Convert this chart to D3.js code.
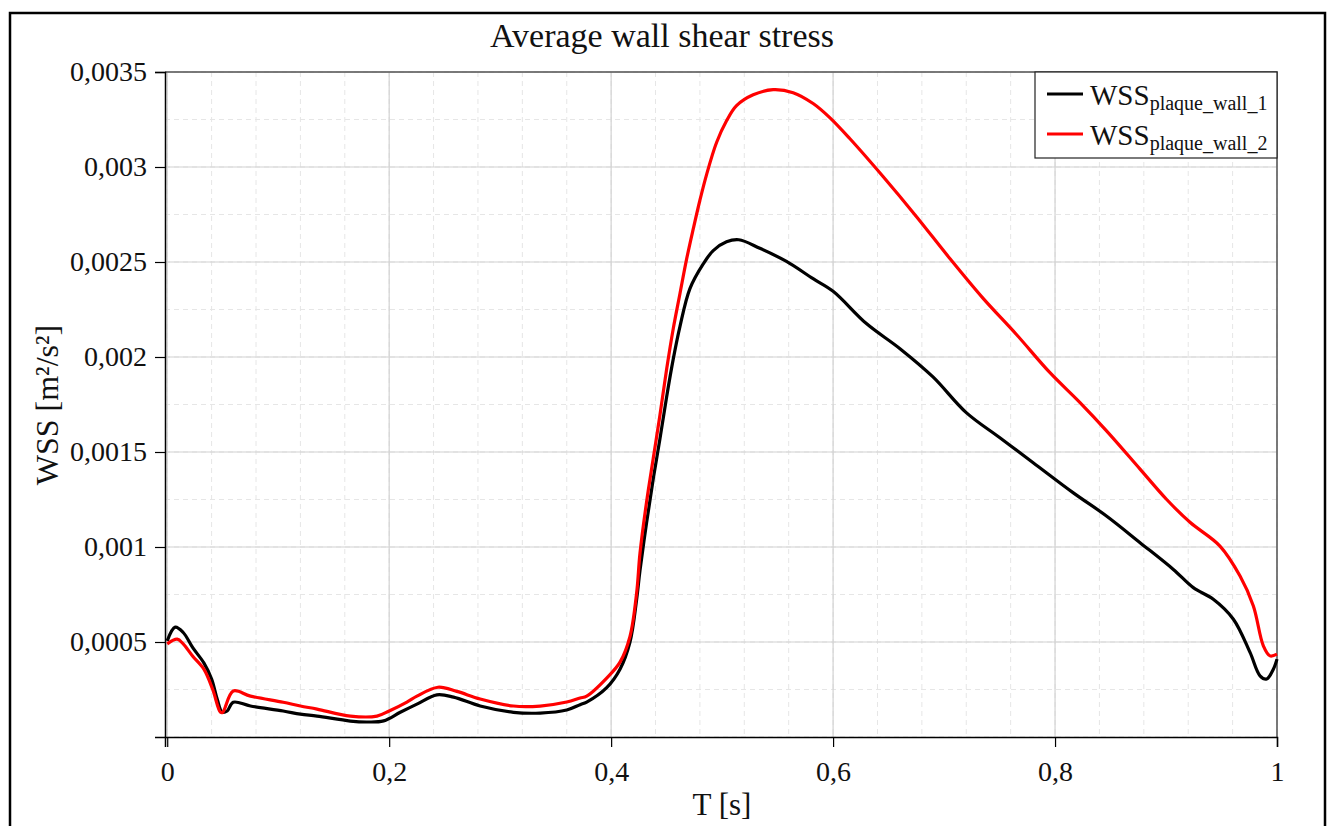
<!DOCTYPE html>
<html>
<head>
<meta charset="utf-8">
<script src="https://cdn.jsdelivr.net/npm/d3@7"></script>
<style>
  body { margin: 0; background: #fff; }
  text { font-family: "Liberation Serif", "DejaVu Serif", serif; fill: #111; }
</style>
</head>
<body>
<svg id="drawing_region"></svg>
<script>
// series 1: WSS plaque_wall_1 (black)
const time_1 = [0, 0.0072, 0.0144, 0.023, 0.033, 0.040, 0.045, 0.0495, 0.054, 0.0595,
    0.075, 0.1045, 0.12, 0.135, 0.165, 0.18, 0.195, 0.21, 0.225, 0.243,
    0.258, 0.282, 0.312, 0.336, 0.36, 0.372, 0.378, 0.396, 0.408, 0.417,
    0.423, 0.426, 0.432, 0.438, 0.444, 0.450, 0.456, 0.462, 0.471, 0.483,
    0.492, 0.504, 0.515, 0.534, 0.558, 0.582, 0.600, 0.630, 0.660, 0.690,
    0.720, 0.750, 0.780, 0.8165, 0.8466, 0.8766, 0.9066, 0.9246, 0.9426, 0.9607,
    0.9757, 0.9847, 0.9907, 0.9967, 1.0];
const wss_1 = [0.000506, 0.000578, 0.00055, 0.00047, 0.00039, 0.000305, 0.0002, 0.000131, 0.000137, 0.000183,
    0.000163, 0.000137, 0.00012, 0.00011, 0.000084, 0.000079, 0.000085, 0.00013, 0.000173, 0.000222,
    0.00021, 0.000163, 0.00013, 0.000126, 0.000142, 0.00017, 0.000184, 0.00026, 0.000357, 0.0005,
    0.000725, 0.000876, 0.00113, 0.00136, 0.00157, 0.00179, 0.00199, 0.00216, 0.00236, 0.00249,
    0.00256, 0.002606, 0.002617, 0.002572, 0.002503, 0.002412, 0.002346, 0.002176, 0.002045, 0.001895,
    0.001707, 0.001576, 0.001445, 0.001285, 0.001162, 0.001023, 0.000882, 0.000786, 0.000725, 0.00062,
    0.000445, 0.000322, 0.000305, 0.000357, 0.00041];

// series 2: WSS plaque_wall_2 (red)
const time_2 = [0, 0.009, 0.0144, 0.023, 0.033, 0.041, 0.048, 0.05, 0.0595, 0.075,
    0.1045, 0.12, 0.135, 0.165, 0.189, 0.2, 0.216, 0.225, 0.244, 0.261,
    0.282, 0.312, 0.336, 0.36, 0.372, 0.378, 0.396, 0.408, 0.417, 0.423,
    0.426, 0.432, 0.438, 0.444, 0.450, 0.456, 0.462, 0.468, 0.474, 0.480,
    0.486, 0.495, 0.504, 0.513, 0.528, 0.546, 0.564, 0.582, 0.597, 0.615,
    0.645, 0.675, 0.705, 0.735, 0.765, 0.795, 0.8225, 0.8466, 0.8766, 0.9006,
    0.9216, 0.9486, 0.9667, 0.9787, 0.9877, 0.9937, 1.0];
const wss_2 = [0.00049, 0.000515, 0.00049, 0.000425, 0.000357, 0.00025, 0.00013, 0.00013, 0.000242, 0.000215,
    0.000183, 0.000163, 0.000147, 0.00011, 0.00011, 0.000137, 0.000184, 0.000215, 0.000262, 0.00024,
    0.0002, 0.000163, 0.000163, 0.000184, 0.000205, 0.000215, 0.00031, 0.000394, 0.00053, 0.00076,
    0.000967, 0.00124, 0.001468, 0.001695, 0.001935, 0.00215, 0.002333, 0.002515, 0.002674, 0.002825,
    0.00296, 0.003129, 0.003243, 0.003323, 0.00338, 0.003407, 0.003391, 0.003334, 0.00326, 0.00315,
    0.00295, 0.00274, 0.00252, 0.00231, 0.00212, 0.00192, 0.00176, 0.00161, 0.00141, 0.00125,
    0.00113, 0.001005, 0.000847, 0.00069, 0.00048, 0.000427, 0.000436];

const series_names = ["plaque_wall_1", "plaque_wall_2"];
const series_colors = ["#000000", "#ff0000"];
const x_ticks = [0, 0.2, 0.4, 0.6, 0.8, 1];
const y_ticks = [0.0005, 0.001, 0.0015, 0.002, 0.0025, 0.003, 0.0035];

const config = {
    width: 1330,
    height: 826,
    margin: {top: 72, right: 53, bottom: 89, left: 165}
};

const svg = d3.select('#drawing_region')
    .attr('width', config.width)
    .attr('height', config.height);

const inner_width = config.width - config.margin.left - config.margin.right;
const inner_height = config.height - config.margin.top - config.margin.bottom;

// outer frame (bottom edge runs off the picture)
svg.append('rect')
    .attr('x', 10).attr('y', 13)
    .attr('width', 1315).attr('height', 840)
    .attr('fill', 'none')
    .attr('stroke', '#000')
    .attr('stroke-width', 2.5);

const chart = svg.append('g')
    .attr('transform', `translate(${config.margin.left}, ${config.margin.top})`);

const xscale = d3.scaleLinear().domain([-0.002, 1]).range([0, inner_width]);
const yscale = d3.scaleLinear().domain([0, 0.0035]).range([inner_height, 0]);

const fmt = d => String(+d.toFixed(6)).replace('.', ',');

// minor grid (dashed)
chart.append('g').selectAll('line')
    .data(d3.range(0, 26).map(i => i * 0.04))
    .join('line')
    .attr('x1', d => xscale(d)).attr('x2', d => xscale(d))
    .attr('y1', 0).attr('y2', inner_height)
    .attr('stroke', '#e6e6e6').attr('stroke-dasharray', '5,4');
chart.append('g').selectAll('line')
    .data(d3.range(0, 15).map(i => i * 0.00025))
    .join('line')
    .attr('x1', 0).attr('x2', inner_width)
    .attr('y1', d => yscale(d)).attr('y2', d => yscale(d))
    .attr('stroke', '#e6e6e6').attr('stroke-dasharray', '5,4');

// major grid
chart.append('g').selectAll('line')
    .data(x_ticks)
    .join('line')
    .attr('x1', d => xscale(d)).attr('x2', d => xscale(d))
    .attr('y1', 0).attr('y2', inner_height)
    .attr('stroke', '#d2d2d2').attr('stroke-width', 1.2);
chart.append('g').selectAll('line')
    .data(y_ticks)
    .join('line')
    .attr('x1', 0).attr('x2', inner_width)
    .attr('y1', d => yscale(d)).attr('y2', d => yscale(d))
    .attr('stroke', '#d2d2d2').attr('stroke-width', 1.2);

// top / right frame of plot
chart.append('path')
    .attr('d', `M0,0H${inner_width}V${inner_height}`)
    .attr('fill', 'none')
    .attr('stroke', '#555').attr('stroke-width', 1.5);

// axes
const xaxis = d3.axisBottom(xscale).tickValues(x_ticks).tickFormat(fmt).tickSize(10).tickPadding(14);
const xaxis_minor = d3.axisBottom(xscale).tickValues(d3.range(0, 26).map(i => i * 0.04)).tickFormat('').tickSize(6);
const yaxis = d3.axisLeft(yscale).tickValues(y_ticks).tickFormat(fmt).tickSize(10).tickPadding(8);
const yaxis_minor = d3.axisLeft(yscale).tickValues(d3.range(1, 15, 2).map(i => i * 0.00025)).tickFormat('').tickSize(6);

const xg = chart.append('g').attr('transform', `translate(0, ${inner_height})`);
xg.call(xaxis_minor);
xg.call(xaxis);
const yg = chart.append('g');
yg.call(yaxis_minor);
yg.call(yaxis);

chart.selectAll('.domain').attr('stroke', '#000').attr('stroke-width', 1.5);
chart.selectAll('.tick line').attr('stroke', '#000').attr('stroke-width', 1.2);
chart.selectAll('.tick text')
    .attr('font-family', '"Liberation Serif", serif')
    .attr('font-size', '28px')
    .attr('fill', '#111');

// lines
const line = d3.line()
    .x(d => xscale(d[0]))
    .y(d => yscale(d[1]))
    .curve(d3.curveCatmullRom.alpha(0.5));

const data_1 = time_1.map((t, i) => [t, wss_1[i]]);
const data_2 = time_2.map((t, i) => [t, wss_2[i]]);

chart.append('path')
    .datum(data_1)
    .attr('d', line)
    .attr('fill', 'none')
    .attr('stroke', series_colors[0])
    .attr('stroke-width', 3.2);
chart.append('path')
    .datum(data_2)
    .attr('d', line)
    .attr('fill', 'none')
    .attr('stroke', series_colors[1])
    .attr('stroke-width', 3.2);

// legend
const legend = chart.append('g')
    .attr('transform', `translate(${inner_width - 242}, 0)`);
legend.append('rect')
    .attr('width', 242).attr('height', 86)
    .attr('fill', '#fff')
    .attr('stroke', '#222').attr('stroke-width', 1.2);
series_names.forEach((name, i) => {
    const ly = 22 + i * 40;
    legend.append('line')
        .attr('x1', 12).attr('x2', 48)
        .attr('y1', ly).attr('y2', ly)
        .attr('stroke', series_colors[i]).attr('stroke-width', 3.2);
    const t = legend.append('text')
        .attr('x', 55).attr('y', ly + 11)
        .attr('font-size', '29px');
    t.append('tspan').text('WSS');
    t.append('tspan').attr('dy', 5).attr('font-size', '20px').text(name);
});

// title
svg.append('text')
    .attr('x', 662).attr('y', 47)
    .attr('text-anchor', 'middle')
    .attr('font-size', '34px')
    .text('Average wall shear stress');

// x label
svg.append('text')
    .attr('x', 722).attr('y', 815)
    .attr('text-anchor', 'middle')
    .attr('font-size', '31px')
    .text('T [s]');

// y label
svg.append('text')
    .attr('transform', 'translate(58, 405) rotate(-90)')
    .attr('text-anchor', 'middle')
    .attr('font-size', '32px')
    .text('WSS [m²/s²]');
</script>
</body>
</html>
